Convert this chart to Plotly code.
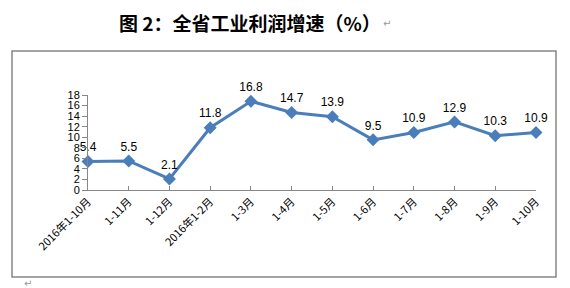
import plotly.graph_objects as go

categories = ["2016年1-10月", "1-11月", "1-12月", "2016年1-2月", "1-3月", "1-4月",
              "1-5月", "1-6月", "1-7月", "1-8月", "1-9月", "1-10月"]
growth = [5.4, 5.5, 2.1, 11.8, 16.8, 14.7, 13.9, 9.5, 10.9, 12.9, 10.3, 10.9]
y_ticks = [0, 2, 4, 6, 8, 10, 12, 14, 16, 18]
title_text = "图 2：全省工业利润增速（%）"

BLUE = "#4A7EBB"
GRAY = "#868686"

fig = go.Figure()
fig.add_trace(go.Scatter(
    x=list(range(len(categories))), y=growth,
    mode="lines+markers+text",
    line=dict(color=BLUE, width=3),
    marker=dict(symbol="diamond", size=10, color=BLUE),
    text=[f"{v:.1f}" for v in growth],
    textposition="top center",
    textfont=dict(family="Liberation Sans, Arial, sans-serif", size=12, color="#000000"),
    cliponaxis=False,
    hoverinfo="skip",
))

L, R, T, B = 88, 34, 95, 98
W, H = 570, 288
pw, ph = W - L - R, H - T - B

def px_to_paper_x(px):
    return (px - L) / pw

def px_to_paper_y(py):
    return (H - B - py) / ph

fig.update_layout(
    width=W, height=H,
    margin=dict(l=L, r=R, t=T, b=B, pad=0),
    paper_bgcolor="white", plot_bgcolor="white",
    showlegend=False,
    xaxis=dict(
        range=[0, len(categories) - 1],
        tickmode="array",
        tickvals=list(range(len(categories))),
        ticktext=categories,
        tickangle=-45,
        showgrid=False, zeroline=False,
        showline=True, linecolor=GRAY, linewidth=1,
        ticks="inside", ticklen=4, tickcolor=GRAY,
        tickfont=dict(family="Noto Sans CJK SC, sans-serif", size=11, color="#000000"),
        fixedrange=True,
    ),
    yaxis=dict(
        range=[0, 18],
        tickmode="array",
        tickvals=y_ticks,
        showgrid=False, zeroline=False,
        showline=True, linecolor=GRAY, linewidth=1,
        ticks="outside", ticklen=5, tickcolor=GRAY,
        tickfont=dict(family="Liberation Sans, Arial, sans-serif", size=11, color="#000000"),
        fixedrange=True,
    ),
    shapes=[dict(
        type="rect", xref="paper", yref="paper",
        x0=px_to_paper_x(12), x1=px_to_paper_x(556),
        y0=px_to_paper_y(277), y1=px_to_paper_y(51),
        line=dict(color=GRAY, width=1.5), fillcolor="rgba(0,0,0,0)", layer="below",
    )],
    annotations=[
        dict(text="<b>" + title_text + "</b>", xref="paper", yref="paper",
             x=px_to_paper_x(250), y=px_to_paper_y(22), xanchor="center", yanchor="middle",
             showarrow=False,
             font=dict(family="Noto Sans CJK SC, sans-serif", size=19, color="#000000")),
        dict(text="↵", xref="paper", yref="paper",
             x=px_to_paper_x(387), y=px_to_paper_y(24), xanchor="center", yanchor="middle",
             showarrow=False, font=dict(family="DejaVu Sans", size=10, color="#999999")),
        dict(text="↵", xref="paper", yref="paper",
             x=px_to_paper_x(28), y=px_to_paper_y(283), xanchor="center", yanchor="middle",
             showarrow=False, font=dict(family="DejaVu Sans", size=10, color="#999999")),
    ],
)

fig.write_html("out.html")
